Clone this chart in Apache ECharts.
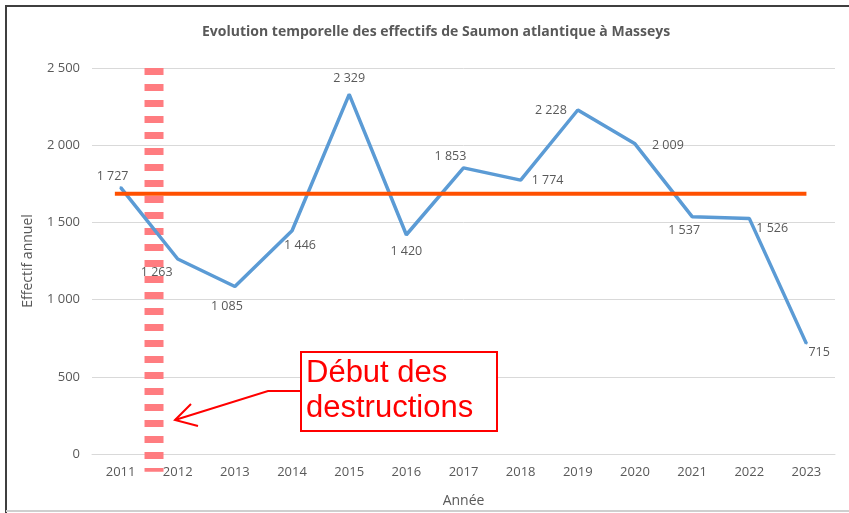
<!DOCTYPE html>
<html>
<head>
<meta charset="utf-8">
<script src="https://cdn.jsdelivr.net/npm/echarts@6/dist/echarts.min.js"></script>
<style>html,body{margin:0;padding:0;background:#fff}#c{width:849px;height:513px}</style>
</head>
<body>
<div id="c"></div>
<script>
// ---- data ----
var years = ['2011','2012','2013','2014','2015','2016','2017','2018','2019','2020','2021','2022','2023'];
var effectifs = [1727, 1263, 1085, 1446, 2329, 1420, 1853, 1774, 2228, 2009, 1537, 1526, 715];
var moyenne = 1685;              // horizontal reference level
var moyenneRange = [-0.1, 12];   // category-index span of the reference line
var debutDestructions = 0.585;   // category-index position (between 2011 and 2012)
var debutRange = [2500, -115];
var yTicks = [0, 500, 1000, 1500, 2000, 2500];

// ---- styling / layout ----
var labelCfg = [
  {position:'top', offset:[-8,2]},
  {position:'bottom', offset:[-21,1]},
  {position:'bottom', offset:[-8,7]},
  {position:'bottom', offset:[8,2]},
  {position:'top', offset:[0,-3]},
  {position:'bottom', offset:[0,4]},
  {position:'top', offset:[-13,1]},
  {position:'right', offset:[5,0]},
  {position:'left', offset:[-5,0]},
  {position:'right', offset:[11,2]},
  {position:'bottom', offset:[-8,1]},
  {position:'right', offset:[1,10]},
  {position:'right', offset:[-4,9]}
];
function fmt(v){ return String(v).replace(/\B(?=(\d{3})+(?!\d))/g, ' '); }
var txt = '#595959';
var font = '"Open Sans"';

var chart = echarts.init(document.getElementById('c'), null, {renderer:'canvas'});
var option = {
  backgroundColor:'#fff',
  animation:false,
  title:{
    text:'Evolution temporelle des effectifs de Saumon atlantique à Masseys',
    left:197, top:20,
    textStyle:{fontFamily:font, fontWeight:'bold', fontSize:14, color:txt}
  },
  grid:{left:92, right:14, top:68, bottom:57},
  xAxis:[{
    type:'category', data:years, boundaryGap:true,
    name:'Année', nameLocation:'middle', nameGap:40,
    nameTextStyle:{fontFamily:font, fontSize:14, color:txt},
    axisLine:{show:true, lineStyle:{color:'#d9d9d9'}},
    axisTick:{show:false},
    axisLabel:{fontFamily:font, fontSize:13, color:txt, margin:12},
    splitLine:{show:false}
  },{
    type:'value', min:-0.5, max:12.5, show:false
  }],
  yAxis:{
    type:'value', min:yTicks[0], max:yTicks[yTicks.length-1], interval:yTicks[1]-yTicks[0],
    name:'Effectif annuel', nameLocation:'middle', nameRotate:90, nameGap:57,
    nameTextStyle:{fontFamily:font, fontSize:14, color:txt},
    axisLine:{show:false}, axisTick:{show:false},
    axisLabel:{fontFamily:font, fontSize:13, color:txt, margin:12, formatter:fmt},
    splitLine:{lineStyle:{color:'#d9d9d9', width:1}}
  },
  series:[{
    type:'line', symbol:'circle', symbolSize:2, showSymbol:true, z:3,
    itemStyle:{color:'#5B9BD5', borderWidth:0},
    lineStyle:{color:'#5B9BD5', width:3.5},
    label:{show:true, fontFamily:font, fontSize:12.5, color:txt},
    data:effectifs.map(function(v,i){
      return {value:v, label:{show:true, position:labelCfg[i].position, offset:labelCfg[i].offset,
        formatter:fmt(v), fontFamily:font, fontSize:12.5, color:txt}};
    })
  },{
    type:'line', xAxisIndex:1, clip:false, showSymbol:false, symbol:'none', z:2,
    data:[[debutDestructions, debutRange[0]],[debutDestructions, debutRange[1]]],
    lineStyle:{color:'#FF7C80', width:19, type:[7,9], cap:'butt'}
  },{
    type:'line', xAxisIndex:1, showSymbol:false, symbol:'none', z:4,
    data:[[moyenneRange[0], moyenne],[moyenneRange[1], moyenne]],
    lineStyle:{color:'#FF5000', width:4}
  }],
  graphic:[
    {type:'line', shape:{x1:5, y1:6, x2:849, y2:6}, style:{stroke:'#3f3f3f', lineWidth:2}, z:100},
    {type:'line', shape:{x1:6, y1:5, x2:6, y2:513}, style:{stroke:'#3f3f3f', lineWidth:2}, z:100},
    {type:'line', shape:{x1:6, y1:511, x2:849, y2:511}, style:{stroke:'#cfcfcf', lineWidth:2}, z:100},
    {type:'rect', shape:{x:301, y:352, width:196, height:79}, style:{fill:'#fff', stroke:'#FF0000', lineWidth:2}, z:100},
    {type:'text', left:306, top:356, z:101, style:{text:'Début des\ndestructions', fill:'#FF0000',
      font:'31px "Liberation Sans", Arial, sans-serif', lineHeight:35}},
    {type:'polyline', shape:{points:[[300,391],[268,391],[175,420]]}, style:{stroke:'#FF0000', lineWidth:2, fill:null}, z:100},
    {type:'polyline', shape:{points:[[191,404],[175,420],[198,426]]}, style:{stroke:'#FF0000', lineWidth:2, fill:null}, z:100}
  ]
};
chart.setOption(option);
</script>
</body>
</html>
